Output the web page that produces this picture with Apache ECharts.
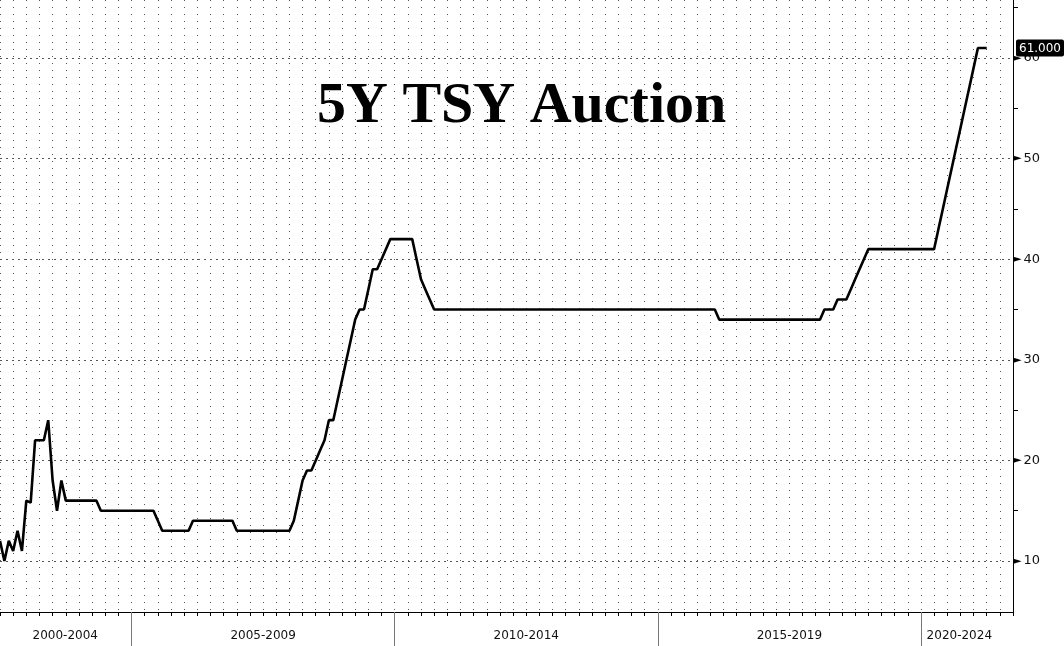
<!DOCTYPE html>
<html>
<head>
<meta charset="utf-8">
<script src="https://cdn.jsdelivr.net/npm/echarts@6/dist/echarts.min.js"></script>
<style>
html,body{margin:0;padding:0;background:#fff;}
#chart{width:1064px;height:646px;}
</style>
</head>
<body>
<div id="chart"></div>
<script>
// ---- data ----
const chartTitle = '5Y TSY Auction';
const startYear = 2002;
const startMonth = 7; // first monthly auction shown: Jul 2002
const values = [
  12,10,12,11,13,11,16,15.8,22,22,22,24,18,15,18,16,
  16,16,16,16,16,16,16,
  15,15,15,15,15,15,15,15,15,15,15,15,15,
  14,
  13,13,13,13,13,13,13,
  14,14,14,14,14,14,14,14,14,14,
  13,13,13,13,13,13,13,13,13,13,13,13,13,
  14,16,18,19,19,20,21,22,24,24,26,28,30,32,34,35,35,37,39,39,40,41,
  42,42,42,42,42,42,
  40,38,37,36,
  35,35,35,35,35,35,35,35,35,35,35,35,35,35,35,35,35,35,35,35,
  35,35,35,35,35,35,35,35,35,35,35,35,35,35,35,35,35,35,35,35,
  35,35,35,35,35,35,35,35,35,35,35,35,35,35,35,35,35,35,35,35,
  35,35,35,35,35,
  34,34,34,34,34,34,34,34,34,34,34,34,34,34,34,34,34,34,34,34,34,34,34,34,
  35,35,35,
  36,36,36,
  37,38,39,40,
  41,41,41,41,41,41,41,41,41,41,41,41,41,41,41,41,
  43,45,47,49,51,53,55,57,59,61,
  61,61
];
const periodLabels = ['2000-2004','2005-2009','2010-2014','2015-2019','2020-2024'];
const periodLabelAt = [2003.74, 2007.5, 2012.5, 2017.5, 2020.73];
const periodBounds = [2005, 2010, 2015, 2020];
const yMajorTicks = [10, 20, 30, 40, 50, 60];
const yMinorTicks = [15, 25, 35, 45, 55, 65];
const xMin = 2002.5, xMax = 2021.75;
const yMin = 4.93, yMax = 65.77;

// ---- build series points (monthly dates) ----
const points = values.map((v, i) => [startYear + (startMonth - 1 + i) / 12, v]);
const lastValue = values[values.length - 1];

const FONT = 'DejaVu Sans';
const chart = echarts.init(document.getElementById('chart'), null, {renderer: 'canvas'});
chart.setOption({
  animation: false,
  backgroundColor: '#ffffff',
  title: {
    text: chartTitle,
    left: 312,
    top: 73,
    textStyle: {fontFamily: 'Liberation Serif', fontWeight: 'bold', fontSize: 58, color: '#000'}
  },
  grid: {left: 0, right: 51, top: 0, bottom: 34, containLabel: false},
  xAxis: [
    {
      type: 'value', min: xMin, max: xMax, interval: 0.25, position: 'bottom',
      axisLine: {show: true, lineStyle: {color: '#000', width: 1}},
      axisTick: {show: true, length: 4, lineStyle: {color: '#000'}},
      axisLabel: {show: false},
      splitLine: {show: true, lineStyle: {color: '#555', type: [1, 6], width: 1}}
    },
    {
      type: 'value', min: xMin, max: xMax, position: 'bottom',
      axisLine: {show: false},
      axisTick: {show: true, customValues: periodBounds, length: 34, lineStyle: {color: '#777', width: 1}},
      axisLabel: {
        show: true, customValues: periodLabelAt, margin: 18,
        fontFamily: FONT, fontSize: 12, color: '#111',
        formatter: function (v) {
          let best = 0;
          periodLabelAt.forEach((p, i) => { if (Math.abs(p - v) < Math.abs(periodLabelAt[best] - v)) best = i; });
          return periodLabels[best];
        }
      },
      splitLine: {show: false}
    }
  ],
  yAxis: [
    {
      type: 'value', min: yMin, max: yMax, position: 'right',
      axisLine: {show: true, lineStyle: {color: '#000', width: 1}},
      axisTick: {show: false, customValues: yMajorTicks},
      axisLabel: {
        show: true, customValues: yMajorTicks, margin: 0,
        fontFamily: FONT, fontSize: 13, color: '#111',
        formatter: v => '{t|\u25BA}' + v,
        rich: {t: {fontSize: 11, color: '#000', padding: [0, 2, 0, 0], fontFamily: FONT}}
      },
      splitLine: {show: true, lineStyle: {color: '#555', type: [2, 4], width: 1}},
      axisPointer: {
        show: true, type: 'line', value: lastValue, status: 'show', triggerTooltip: false,
        lineStyle: {opacity: 0},
        label: {
          show: true, margin: 5,
          formatter: () => lastValue.toFixed(3),
          backgroundColor: '#000', color: '#fff', fontFamily: FONT, fontSize: 12,
          padding: [3, 3, 2, 3], borderRadius: 2
        }
      }
    },
    {
      type: 'value', min: yMin, max: yMax, position: 'right',
      axisLine: {show: false},
      axisTick: {show: true, customValues: yMinorTicks, length: 5, lineStyle: {color: '#000'}},
      axisLabel: {show: false},
      splitLine: {show: false}
    }
  ],
  axisPointer: {triggerOn: 'none'},
  series: [{
    type: 'line',
    xAxisIndex: 0, yAxisIndex: 0,
    data: points,
    showSymbol: false,
    symbol: 'none',
    lineStyle: {color: '#000', width: 2.6},
    z: 5
  }]
});
</script>
</body>
</html>
